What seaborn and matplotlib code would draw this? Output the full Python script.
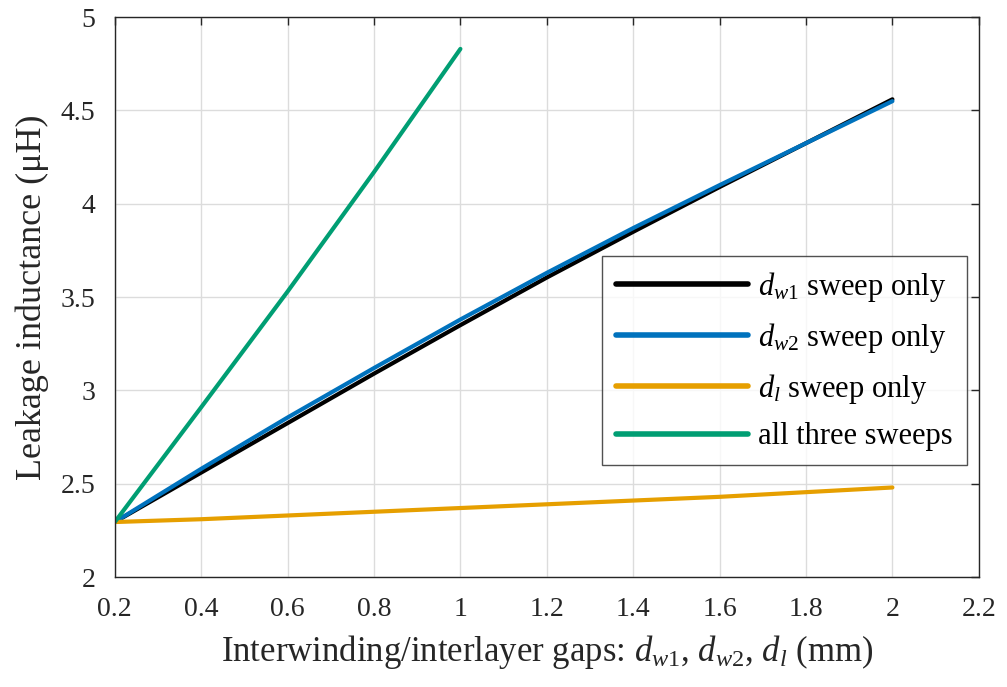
import matplotlib
matplotlib.use("Agg")
import matplotlib.pyplot as plt
import numpy as np
import pandas as pd
import seaborn as sns

# Gap sweep values (mm) and resulting leakage inductance (uH)
gap_full = [0.2, 0.4, 0.6, 0.8, 1.0, 1.2, 1.4, 1.6, 1.8, 2.0]
gap_all = [0.2, 0.4, 0.6, 0.8, 1.0]
L_dw1 = [2.295, 2.56, 2.825, 3.09, 3.35, 3.605, 3.85, 4.09, 4.325, 4.56]
L_dw2 = [2.295, 2.58, 2.855, 3.12, 3.38, 3.63, 3.87, 4.10, 4.325, 4.55]
L_dl = [2.295, 2.31, 2.33, 2.35, 2.37, 2.39, 2.41, 2.43, 2.455, 2.48]
L_all = [2.295, 2.91, 3.53, 4.17, 4.83]

labels = [r"$\mathit{d}_{\mathit{w1}}$ sweep only",
          r"$\mathit{d}_{\mathit{w2}}$ sweep only",
          r"$\mathit{d}_{\mathit{l}}$ sweep only",
          "all three sweeps"]
colors = ["#000000", "#0072BD", "#E69F00", "#009E73"]

df = pd.concat([
    pd.DataFrame({"gap": gap_full, "L": L_dw1, "series": labels[0]}),
    pd.DataFrame({"gap": gap_full, "L": L_dw2, "series": labels[1]}),
    pd.DataFrame({"gap": gap_full, "L": L_dl, "series": labels[2]}),
    pd.DataFrame({"gap": gap_all, "L": L_all, "series": labels[3]}),
], ignore_index=True)

sns.set_theme(style="whitegrid")
plt.rcParams["font.family"] = ["Liberation Serif", "DejaVu Serif"]
plt.rcParams["mathtext.fontset"] = "custom"
plt.rcParams["mathtext.rm"] = "Liberation Serif"
plt.rcParams["mathtext.it"] = "Liberation Serif:italic"

fig = plt.figure(figsize=(10.07, 6.87), dpi=100)
ax = fig.add_axes([0.114, 0.160, 0.858, 0.815])

sns.lineplot(data=df, x="gap", y="L", hue="series", hue_order=labels,
             palette=colors, linewidth=3, sort=False, estimator=None,
             ax=ax)

ax.set_xlim(0.2, 2.2)
ax.set_ylim(2, 5)
ax.set_xticks(np.arange(0.2, 2.21, 0.2))
ax.set_xticklabels(["0.2", "0.4", "0.6", "0.8", "1", "1.2", "1.4", "1.6",
                    "1.8", "2", "2.2"])
ax.set_yticks(np.arange(2, 5.01, 0.5))
ax.set_yticklabels(["2", "2.5", "3", "3.5", "4", "4.5", "5"])

ax.grid(True, color="#dcdcdc", linewidth=1)
for s in ax.spines.values():
    s.set_visible(True)
    s.set_color("#262626")
    s.set_linewidth(1)
ax.tick_params(direction="in", top=True, right=True, length=6, width=1,
               color="#262626", labelsize=20, labelcolor="#262626")
ax.tick_params(axis="x", pad=14)
ax.tick_params(axis="y", pad=14)

ax.set_xlabel(r"Interwinding/interlayer gaps: $\mathit{d}_{\mathit{w1}}$, "
              r"$\mathit{d}_{\mathit{w2}}$, $\mathit{d}_{\mathit{l}}$ (mm)",
              fontsize=25, color="#262626", labelpad=8)
ax.set_ylabel("Leakage inductance (μH)", fontsize=26, color="#262626",
              labelpad=8)

leg = ax.legend(loc="upper right", bbox_to_anchor=(0.986, 0.573),
                fontsize=22, frameon=True, fancybox=False, handlelength=4.3,
                labelspacing=0.55, borderpad=0.45, handletextpad=0.35,
                borderaxespad=0)
leg.get_frame().set_edgecolor("#262626")
leg.get_frame().set_linewidth(1)
for line in leg.get_lines():
    line.set_linewidth(4)
for t in leg.get_texts():
    t.set_color("black")

fig.savefig("out.png", dpi=100, facecolor="white")
